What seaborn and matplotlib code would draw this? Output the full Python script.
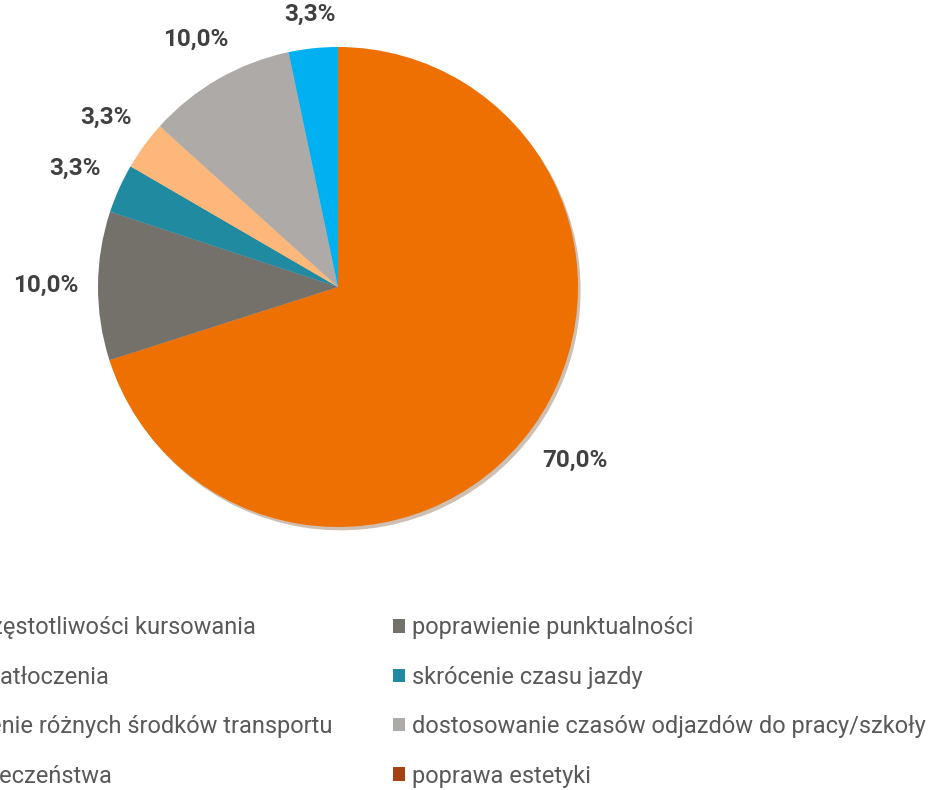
import numpy as np
import matplotlib
matplotlib.use("Agg")
import matplotlib.pyplot as plt
import seaborn as sns

# answers (share of respondents, %)
categories = [
    "zwiększenie częstotliwości kursowania",
    "poprawienie punktualności",
    "zmniejszenie zatłoczenia",
    "skrócenie czasu jazdy",
    "lepsze połączenie różnych środków transportu",
    "dostosowanie czasów odjazdów do pracy/szkoły",
    "poprawa bezpieczeństwa",
    "poprawa estetyki",
]
shares = [70.0, 10.0, 0.0, 3.3, 3.3, 10.0, 3.3, 0.0]
colors = ["#ED7000", "#74706A", "#C9A227", "#1F8AA0",
          "#FDB77A", "#ADAAA8", "#00B0F0", "#A5420F"]

pct_labels = [f"{v:.1f}%".replace(".", ",") if v > 0 else "" for v in shares]

sns.set_theme(style="white")
plt.rcParams["font.family"] = ["Roboto", "DejaVu Sans"]

W, H = 935, 790
fig = plt.figure(figsize=(W / 100, H / 100), dpi=100)
ax = fig.add_axes([98 / W, 263 / H, 480 / W, 480 / H])

wedges, _ = ax.pie(shares, colors=colors, startangle=90, counterclock=False,
                   wedgeprops={"linewidth": 0},
                   shadow={"ox": 0.008, "oy": -0.01, "shade": 0.6, "alpha": 0.3})
ax.set_xlim(-1, 1)
ax.set_ylim(-1, 1)
ax.set_aspect("equal")

# percentage labels outside the pie
renderer = fig.canvas.get_renderer()
for w, lab in zip(wedges, pct_labels):
    if not lab:
        continue
    ang = np.deg2rad((w.theta1 + w.theta2) / 2)
    dx, dy = np.cos(ang), np.sin(ang)
    t = ax.annotate(lab, xy=(dx, dy), xytext=(0, 0), textcoords="offset pixels",
                    ha="center", va="center", fontsize=17.5, fontweight="bold",
                    color="#404040")
    bb = t.get_window_extent(renderer)
    off = 20 + abs(dx) * bb.width / 2 + abs(dy) * bb.height / 2
    t.xyann = (dx * off, dy * off)

# legend: Excel fills rows -> two single-column legends
leg_kw = dict(loc="upper left", frameon=False, fontsize=17, labelcolor="#595959",
              handlelength=0.5, handleheight=0.5, handletextpad=0.3,
              labelspacing=1.12, borderpad=0, borderaxespad=0)
left_idx, right_idx = [0, 2, 4, 6], [1, 3, 5, 7]
leg_top = 0.22
leg_l = fig.legend([wedges[i] for i in left_idx], [categories[i] for i in left_idx],
                   bbox_to_anchor=(0, leg_top), **leg_kw)
leg_r = fig.legend([wedges[i] for i in right_idx], [categories[i] for i in right_idx],
                   bbox_to_anchor=(393 / W, leg_top), **leg_kw)

# left column is cut by the image edge, as in the original
fig.canvas.draw()
tx0 = leg_l.get_texts()[0].get_window_extent(renderer).x0
probe = fig.text(0, 0, "zwiększenie cz", fontsize=17)
pw = probe.get_window_extent(renderer).width
probe.remove()
shift = (-pw + 3) - tx0
leg_l.set_bbox_to_anchor((shift / W, leg_top), transform=fig.transFigure)

fig.savefig("out.png", dpi=100)
